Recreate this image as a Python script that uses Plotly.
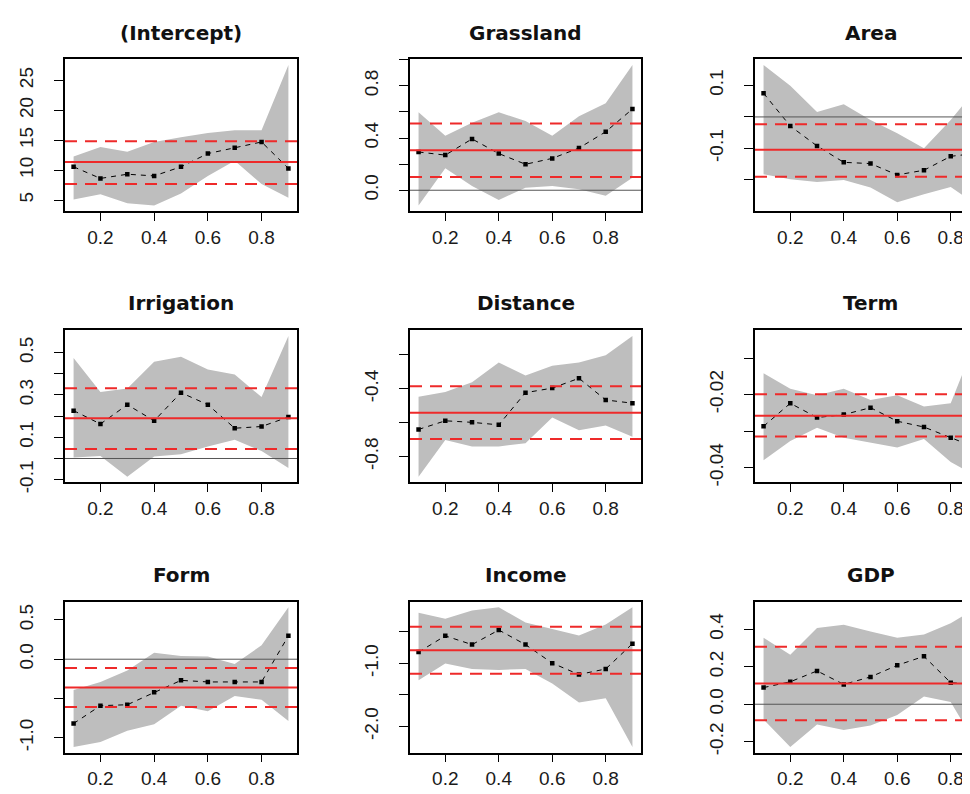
import plotly.graph_objects as go

taus = [0.1, 0.2, 0.3, 0.4, 0.5, 0.6, 0.7, 0.8, 0.9]
x_ticks = [0.2, 0.4, 0.6, 0.8]
x_tick_labels = ["0.2", "0.4", "0.6", "0.8"]

# ---- coefficient estimates, confidence bands, OLS (estimate, lower, upper) ----
intercept_est = [10.57, 8.63, 9.33, 9.05, 10.57, 12.78, 13.75, 14.72, 10.30]
intercept_lo = [5.1, 6.0, 4.5, 4.1, 6.1, 9.05, 11.6, 7.7, 5.4]
intercept_hi = [12.3, 13.9, 13.1, 14.7, 15.5, 16.2, 16.7, 16.7, 27.6]
intercept_ols = [11.38, 7.71, 14.84]

grass_est = [0.293, 0.269, 0.393, 0.281, 0.199, 0.244, 0.323, 0.448, 0.622]
grass_lo = [-0.117, 0.169, 0.032, -0.075, 0.02, 0.032, 0.007, -0.042, 0.095]
grass_hi = [0.597, 0.418, 0.517, 0.597, 0.53, 0.418, 0.567, 0.667, 0.96]
grass_ols = [0.306, 0.102, 0.512]

area_est = [0.075, -0.029, -0.092, -0.144, -0.148, -0.184, -0.169, -0.125, -0.115]
area_lo = [-0.182, -0.198, -0.206, -0.200, -0.224, -0.271, -0.245, -0.222, -0.281]
area_hi = [0.165, 0.099, 0.016, 0.040, -0.010, -0.052, -0.099, -0.010, 0.094]
area_ols = [-0.104, -0.19, -0.023]

irrig_est = [0.226, 0.163, 0.254, 0.178, 0.311, 0.254, 0.143, 0.151, 0.196]
irrig_lo = [0.005, 0.012, -0.086, 0.009, 0.02, 0.057, 0.088, 0.035, -0.045]
irrig_hi = [0.475, 0.314, 0.33, 0.457, 0.48, 0.42, 0.397, 0.29, 0.578]
irrig_ols = [0.19, 0.045, 0.332]

dist_est = [-0.64, -0.589, -0.598, -0.613, -0.423, -0.396, -0.338, -0.466, -0.485]
dist_lo = [-0.919, -0.702, -0.74, -0.74, -0.721, -0.57, -0.645, -0.617, -0.683]
dist_hi = [-0.447, -0.419, -0.362, -0.245, -0.321, -0.264, -0.245, -0.202, -0.089]
dist_ols = [-0.542, -0.696, -0.385]

term_est = [-0.0287, -0.0224, -0.0263, -0.0255, -0.0236, -0.0273, -0.0289, -0.0318, -0.0347]
term_lo = [-0.038, -0.0327, -0.0291, -0.0318, -0.0331, -0.0345, -0.0322, -0.0385, -0.0425]
term_hi = [-0.0142, -0.0184, -0.0202, -0.0184, -0.0215, -0.0202, -0.0233, -0.0224, -0.004]
term_ols = [-0.0258, -0.0315, -0.0199]

form_est = [-0.818, -0.591, -0.579, -0.421, -0.269, -0.289, -0.289, -0.289, 0.298]
form_lo = [-1.116, -1.054, -0.909, -0.826, -0.591, -0.661, -0.467, -0.517, -0.785]
form_hi = [-0.393, -0.289, -0.145, 0.083, 0.041, 0.033, -0.062, 0.178, 0.661]
form_ols = [-0.36, -0.607, -0.112]

income_est = [-0.82, -0.562, -0.701, -0.469, -0.701, -0.995, -1.175, -1.088, -0.686]
income_lo = [-1.268, -1.0, -1.088, -1.103, -1.088, -1.32, -1.619, -1.552, -2.325]
income_hi = [-0.196, -0.289, -0.16, -0.108, -0.35, -0.454, -0.557, -0.381, -0.108]
income_ols = [-0.789, -1.165, -0.418]

gdp_est = [0.089, 0.12, 0.178, 0.106, 0.146, 0.208, 0.256, 0.115, 0.106]
gdp_lo = [-0.082, -0.228, -0.108, -0.137, -0.113, -0.057, 0.041, 0.012, -0.228]
gdp_hi = [0.355, 0.264, 0.407, 0.424, 0.389, 0.355, 0.372, 0.432, 0.518]
gdp_ols = [0.111, -0.086, 0.307]

# ---- y tick values / labels per panel ----
intercept_yt = [5, 10, 15, 20, 25]
intercept_ytl = ["5", "10", "15", "20", "25"]
grass_yt = [0.0, 0.2, 0.4, 0.6, 0.8, 1.0]
grass_ytl = ["0.0", "", "0.4", "", "0.8", ""]
area_yt = [-0.3, -0.2, -0.1, 0.0, 0.1]
area_ytl = ["-0.3", "", "-0.1", "", "0.1"]
irrig_yt = [-0.1, 0.0, 0.1, 0.2, 0.3, 0.4, 0.5]
irrig_ytl = ["-0.1", "", "0.1", "", "0.3", "", "0.5"]
dist_yt = [-0.8, -0.6, -0.4, -0.2]
dist_ytl = ["-0.8", "", "-0.4", ""]
term_yt = [-0.04, -0.03, -0.02, -0.01]
term_ytl = ["-0.04", "", "-0.02", ""]
form_yt = [-1.0, -0.5, 0.0, 0.5]
form_ytl = ["-1.0", "", "0.0", "0.5"]
income_yt = [-2.0, -1.5, -1.0, -0.5]
income_ytl = ["-2.0", "", "-1.0", ""]
gdp_yt = [-0.2, 0.0, 0.2, 0.4]
gdp_ytl = ["-0.2", "0.0", "0.2", "0.4"]

panels = [
    ("(Intercept)", intercept_est, intercept_lo, intercept_hi, intercept_ols, intercept_yt, intercept_ytl),
    ("Grassland", grass_est, grass_lo, grass_hi, grass_ols, grass_yt, grass_ytl),
    ("Area", area_est, area_lo, area_hi, area_ols, area_yt, area_ytl),
    ("Irrigation", irrig_est, irrig_lo, irrig_hi, irrig_ols, irrig_yt, irrig_ytl),
    ("Distance", dist_est, dist_lo, dist_hi, dist_ols, dist_yt, dist_ytl),
    ("Term", term_est, term_lo, term_hi, term_ols, term_yt, term_ytl),
    ("Form", form_est, form_lo, form_hi, form_ols, form_yt, form_ytl),
    ("Income", income_est, income_lo, income_hi, income_ols, income_yt, income_ytl),
    ("GDP", gdp_est, gdp_lo, gdp_hi, gdp_ols, gdp_yt, gdp_ytl),
]

W, H = 970, 794
col_px = [(57, 289), (402, 633), (747, 978)]
row_px = [(52, 206), (327, 481), (602, 755)]
title_y = [25, 299, 575]
x_full = [0.068, 0.932]

TICK_FONT = dict(family="Liberation Sans, Arial, sans-serif", size=19, color="#1a1a1a")
TITLE_FONT = dict(family="DejaVu Sans, sans-serif", size=20, color="#111111", weight="bold")

fig = go.Figure()
layout = {}
shapes = []
annotations = []

for i, (name, est, lo, hi, ols, yt, ytl) in enumerate(panels):
    r, c = divmod(i, 3)
    n = i + 1
    xa = "x" if n == 1 else f"x{n}"
    ya = "y" if n == 1 else f"y{n}"
    xkey = "xaxis" if n == 1 else f"xaxis{n}"
    ykey = "yaxis" if n == 1 else f"yaxis{n}"

    x0p, x1p = col_px[c]
    vis_right = min(x1p, W)
    xr1 = x_full[0] + (x_full[1] - x_full[0]) * (vis_right - x0p) / (x1p - x0p)
    dom_x = [x0p / W, vis_right / W]
    dom_y = [1 - row_px[r][1] / H, 1 - row_px[r][0] / H]

    ymin = min(min(lo), ols[1])
    ymax = max(max(hi), ols[2])
    ext = 0.04 * (ymax - ymin)
    yr = [ymin - ext, ymax + ext]

    # grey confidence band
    fig.add_trace(go.Scatter(
        x=taus + taus[::-1], y=hi + lo[::-1], fill="toself", fillcolor="#BEBEBE",
        mode="lines", line=dict(width=0, color="#BEBEBE"),
        xaxis=xa, yaxis=ya, hoverinfo="skip", showlegend=False))
    # quantile estimates
    fig.add_trace(go.Scatter(
        x=taus, y=est, mode="lines+markers",
        line=dict(color="black", width=1, dash="5px,5px"),
        marker=dict(symbol="square", size=4.5, color="black"),
        xaxis=xa, yaxis=ya, showlegend=False))

    # zero line
    if yr[0] < 0 < yr[1]:
        shapes.append(dict(type="line", xref=f"{xa} domain", yref=ya, x0=0, x1=1,
                           y0=0, y1=0, line=dict(color="#555555", width=1), layer="above"))
    # OLS lines
    shapes.append(dict(type="line", xref=f"{xa} domain", yref=ya, x0=0, x1=1,
                       y0=ols[0], y1=ols[0], line=dict(color="#EE2A2A", width=2), layer="above"))
    for v in ols[1:]:
        shapes.append(dict(type="line", xref=f"{xa} domain", yref=ya, x0=0, x1=1,
                           y0=v, y1=v, line=dict(color="#EE2A2A", width=2, dash="12px,8px"),
                           layer="above"))

    layout[xkey] = dict(
        domain=dom_x, anchor=ya, range=[x_full[0], xr1],
        tickvals=x_ticks, ticktext=x_tick_labels, ticks="outside", ticklen=8,
        tickwidth=1.3, tickcolor="black", tickfont=TICK_FONT, ticklabelstandoff=0,
        showline=True, linecolor="black", linewidth=1.5, mirror=True,
        showgrid=False, zeroline=False)
    layout[ykey] = dict(
        domain=dom_y, anchor=xa, range=yr,
        tickvals=yt, ticktext=ytl, ticks="outside", ticklen=9, tickangle=-90,
        tickwidth=1.3, tickcolor="black", tickfont=TICK_FONT, ticklabelstandoff=14,
        showline=True, linecolor="black", linewidth=1.5, mirror=(c != 2),
        showgrid=False, zeroline=False)

    annotations.append(dict(
        text=name, xref="paper", yref="paper",
        x=((x0p + x1p) / 2) / W, y=1 - title_y[r] / H,
        xanchor="center", yanchor="middle", showarrow=False, font=TITLE_FONT))

fig.update_layout(
    width=W, height=H, margin=dict(l=0, r=0, t=0, b=0),
    paper_bgcolor="white", plot_bgcolor="white",
    shapes=shapes, annotations=annotations, showlegend=False,
    **layout)

fig.write_html("out.html")
